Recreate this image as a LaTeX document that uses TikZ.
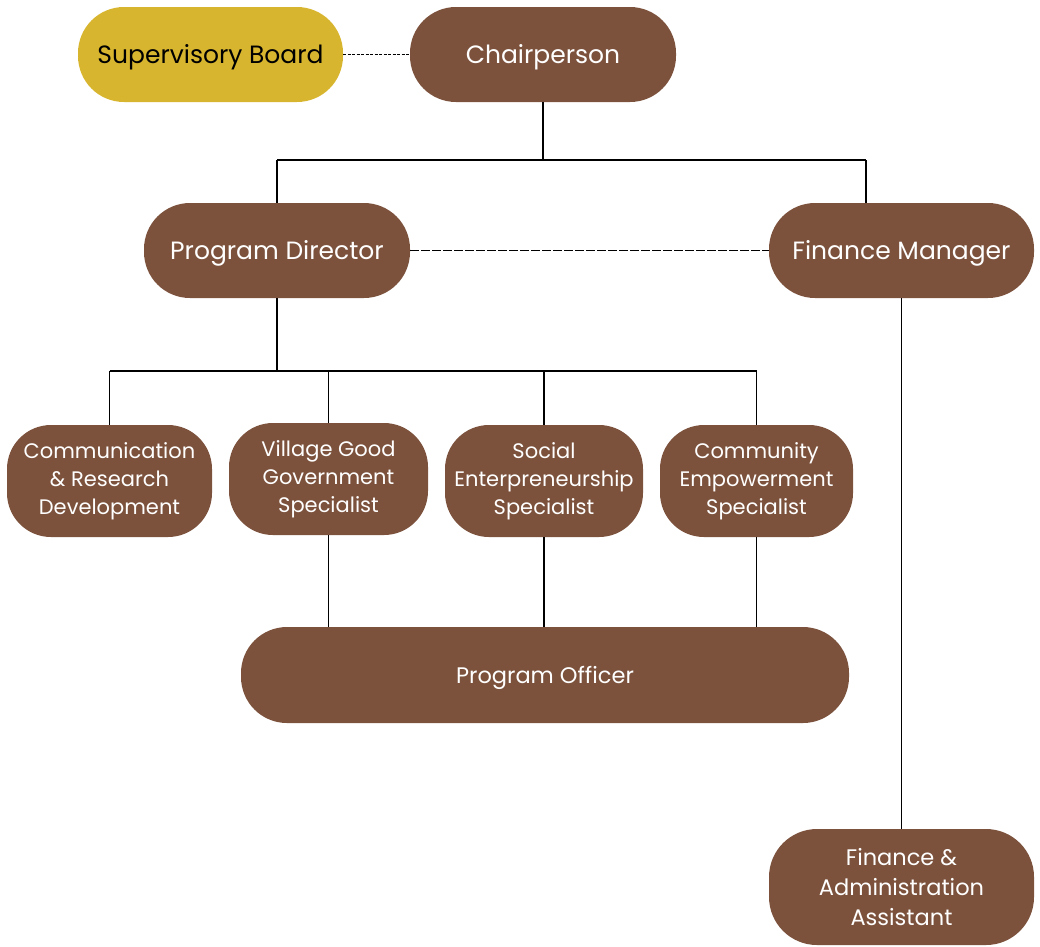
\documentclass[tikz,border=0pt]{standalone}
\usepackage{fontspec}
\setmainfont{Poppins}
\definecolor{brownbox}{HTML}{7C523D}
\definecolor{goldbox}{HTML}{D8B52F}
\begin{document}
\begin{tikzpicture}[x=1pt,y=-1pt,
  box/.style={fill=brownbox, text=white, rounded corners=46pt, inner sep=0pt, align=center, font=\fontsize{25}{30}\selectfont},
  onebox/.style={box, text height=18pt, text depth=0pt},
  sbox/.style={fill=brownbox, text=white, rounded corners=44pt, inner sep=0pt, align=center, font=\fontsize{21}{28}\selectfont},
  conn/.style={draw=black, line width=1.7pt},
  dconn/.style={draw=black, line width=1.7pt, dash pattern=on 4pt off 2pt}]
\useasboundingbox (0,0) rectangle (1040,946);
\node[onebox, fill=goldbox, text=black, minimum width=265pt, minimum height=95pt] (sb) at (210.5,54.5) {Supervisory Board};
\node[onebox, minimum width=266pt, minimum height=95pt] (ch) at (543,54.5) {Chairperson};
\node[onebox, minimum width=266pt, minimum height=95pt] (pd) at (277,250.5) {Program Director};
\node[onebox, minimum width=265pt, minimum height=95pt] (fm) at (901.5,250.5) {Finance Manager};
\node[sbox, minimum width=205pt, minimum height=112pt] (crd) at (109.5,481) {Communication\\\& Research\\Development};
\node[sbox, minimum width=199pt, minimum height=112pt] (vgg) at (328.5,479) {Village Good\\Government\\Specialist};
\node[sbox, minimum width=198pt, minimum height=112pt] (ses) at (544,481) {Social\\Enterpreneurship\\Specialist};
\node[sbox, minimum width=193pt, minimum height=112pt] (ces) at (756.5,481) {Community\\Empowerment\\Specialist};
\node[onebox, minimum width=608pt, minimum height=96pt, font=\fontsize{22.5}{28}\selectfont, text height=16pt] (po) at (545,675) {Program Officer};
\node[box, minimum width=265pt, minimum height=116pt, rounded corners=48pt, font=\fontsize{22.5}{30}\selectfont] (faa) at (901.5,887) {Finance \&\\Administration\\Assistant};
% dashed links
\draw[dconn, dash pattern=on 3pt off 1.5pt] (sb.east) -- (ch.west);
\draw[dconn, dash pattern=on 9pt off 2pt] (pd.east) -- (fm.west);
% chairperson branch
\coordinate (c1) at (543,160);
\coordinate (c2) at (277,160);
\coordinate (c3) at (866,160);
\draw[conn] (ch.south) -- (c1);
\draw[conn] (c2) -- (c3);
\draw[conn] (c2) -- (pd.north);
\draw[conn] (c3) -- (866,203);
% program director branch
\coordinate (p1) at (277,371);
\coordinate (pl) at (109.5,371);
\coordinate (pr) at (756.5,371);
\draw[conn] (pd.south) -- (p1);
\draw[conn] (pl) -- (pr);
\draw[conn] (pl) -- (crd.north);
\draw[conn] (328.5,371) -- (vgg.north);
\draw[conn] (544,371) -- (ses.north);
\draw[conn] (pr) -- (ces.north);
% to program officer
\draw[conn] (vgg.south) -- (vgg.south |- po.north);
\draw[conn] (ses.south) -- (ses.south |- po.north);
\draw[conn] (ces.south) -- (ces.south |- po.north);
% finance
\draw[conn] (fm.south) -- (faa.north);
\end{tikzpicture}
\end{document}
